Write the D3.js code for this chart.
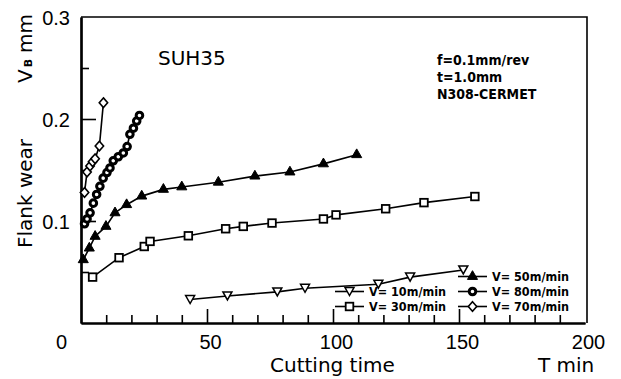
<!DOCTYPE html>
<html lang="en">
<head>
  <meta charset="UTF-8">
  <title>Flank wear vs cutting time</title>
</head>
<style>
  body { margin: 0; background: #fff; }
  .ticklabel { font-family: "Liberation Sans", Arial, sans-serif; font-size: 20px; fill: #000; }
  .axislabel { font-family: "DejaVu Sans", sans-serif; font-size: 20px; fill: #000; }
  .note { font-family: "DejaVu Sans Condensed", "DejaVu Sans", sans-serif; font-stretch: condensed; font-weight: bold; font-size: 14px; fill: #000; }
  .legend { font-family: "DejaVu Sans Condensed", "DejaVu Sans", sans-serif; font-stretch: condensed; font-weight: bold; font-size: 12.5px; fill: #000; }
</style>
<body>
<div id="chart"></div>
<script src="https://cdn.jsdelivr.net/npm/d3@7"></script>
<script>

  // ## Data (cutting time T in min, flank wear VB in mm)
  const t10 = [43.3, 58.1, 77.9, 88.9, 118, 130.6, 151.7];
  const vb10 = [0.023, 0.0265, 0.0305, 0.034, 0.038, 0.045, 0.052];

  const t30 = [4.6, 15.1, 25.1, 27.4, 42.6, 57.4, 64.4, 75.8, 96.2, 101.2, 120.9, 136.1, 156.3];
  const vb30 = [0.045, 0.064, 0.075, 0.080, 0.0855, 0.0924, 0.0947, 0.098, 0.102, 0.106, 0.112, 0.118, 0.124];

  const t50 = [0.9, 3.3, 5.6, 9.9, 13.5, 18.1, 24.1, 32.7, 40.0, 54.5, 69.0, 82.9, 96.2, 109.4];
  const vb50 = [0.062, 0.0734, 0.0849, 0.0947, 0.108, 0.116, 0.1244, 0.131, 0.1334, 0.138, 0.144, 0.148, 0.156, 0.165];

  const t80 = [1.4, 2.4, 3.6, 4.9, 6.2, 7.5, 8.8, 10.3, 11.5, 12.8, 14.8, 16.8, 18.3, 19.4, 20.8, 22.1, 23.2];
  const vb80 = [0.0973, 0.102, 0.108, 0.1175, 0.126, 0.134, 0.142, 0.1475, 0.152, 0.159, 0.163, 0.1667, 0.173, 0.185, 0.191, 0.198, 0.2035];

  const t70 = [1.4, 2.4, 3.6, 4.6, 5.6, 7.3, 8.9];
  const vb70 = [0.128, 0.148, 0.154, 0.158, 0.161, 0.1735, 0.216];

  const xMajorTicks = [0, 50, 100, 150, 200];
  const xMinorTicks = [10, 20, 30, 40, 60, 70, 80, 90, 110, 120, 130, 140, 160, 170, 180, 190];
  const yMajorTicks = [0.1, 0.2, 0.3];
  const yMinorTicks = [0.05, 0.15, 0.25];

  const series = [
    {name: "V= 10m/min", t: t10, vb: vb10, marker: "down"},
    {name: "V= 30m/min", t: t30, vb: vb30, marker: "square"},
    {name: "V= 50m/min", t: t50, vb: vb50, marker: "up"},
    {name: "V= 80m/min", t: t80, vb: vb80, marker: "circle"},
    {name: "V= 70m/min", t: t70, vb: vb70, marker: "diamond"}
  ];

  // ## Dimensions
  const dimensions = {
    width: 621,
    height: 379,
    margin: {top: 17, right: 36, bottom: 56, left: 81}
  };
  dimensions.boundedWidth = 585 - dimensions.margin.left;
  dimensions.boundedHeight = dimensions.height - dimensions.margin.top - dimensions.margin.bottom;

  const svg = d3.select("#chart")
    .append("svg")
      .attr("width", dimensions.width)
      .attr("height", dimensions.height);

  const bounds = svg.append("g")
      .attr("transform", `translate(${dimensions.margin.left},${dimensions.margin.top})`);

  // ## Scales
  const xScale = d3.scaleLinear()
      .domain([0, 200])
      .range([0, dimensions.boundedWidth]);

  const yScale = d3.scaleLinear()
      .domain([0, 0.3])
      .range([dimensions.boundedHeight, 0]);

  // ## Frame (top + right)
  bounds.append("path")
      .attr("d", `M0,0 H${xScale(200) + 2} V${dimensions.boundedHeight}`)
      .attr("fill", "none")
      .attr("stroke", "#000")
      .attr("stroke-width", 1.6);

  // ## Axes
  const styleAxis = g => {
    g.select(".domain").attr("stroke-width", 2.2);
    g.selectAll(".tick line").attr("stroke-width", 1.6);
  };

  bounds.append("g")
      .attr("transform", `translate(0,${dimensions.boundedHeight})`)
      .call(d3.axisBottom(xScale).tickValues(xMinorTicks).tickSizeInner(-8).tickSizeOuter(0).tickFormat(""))
      .call(styleAxis);

  const xAxis = bounds.append("g")
      .attr("transform", `translate(0,${dimensions.boundedHeight})`)
      .call(d3.axisBottom(xScale).tickValues(xMajorTicks).tickSizeInner(-14).tickSizeOuter(0).tickPadding(12))
      .call(styleAxis)
      .call(g => g.selectAll(".tick text")
          .attr("class", "ticklabel")
          .attr("font-family", null).attr("font-size", null)
          .attr("dx", d => d === 0 ? -20 : 3));
  xAxis.selectAll(".tick").filter(d => d === 0 || d === 200).select("line").remove();

  bounds.append("g")
      .call(d3.axisLeft(yScale).tickValues(yMinorTicks).tickSizeInner(-8).tickSizeOuter(0).tickFormat(""))
      .call(styleAxis);

  const yAxis = bounds.append("g")
      .call(d3.axisLeft(yScale).tickValues(yMajorTicks).tickSizeInner(-15).tickSizeOuter(0).tickPadding(11)
          .tickFormat(d3.format(".1f")))
      .call(styleAxis)
      .call(g => g.selectAll(".tick text")
          .attr("class", "ticklabel")
          .attr("font-family", null).attr("font-size", null)
          .attr("dy", "0.36em"));
  yAxis.selectAll(".tick").filter(d => d === 0.3).select("line").remove();

  // Axis labels
  svg.append("text")
      .attr("class", "axislabel")
      .attr("x", 270).attr("y", 372)
      .text("Cutting time");

  svg.append("text")
      .attr("class", "axislabel")
      .attr("x", 538).attr("y", 372)
      .text("T  min");

  svg.append("text")
      .attr("class", "axislabel")
      .attr("transform", "translate(32,248) rotate(-90)")
      .text("Flank wear");

  const vbLabel = svg.append("text")
      .attr("class", "axislabel")
      .attr("transform", "translate(32,83) rotate(-90)");
  vbLabel.append("tspan").text("V");
  vbLabel.append("tspan").attr("font-size", "11px").attr("font-weight", "bold").attr("dx", 2).attr("dy", 0).text("B");
  vbLabel.append("tspan").attr("dx", 6).text("mm");

  // Annotations
  svg.append("text")
      .attr("class", "axislabel")
      .attr("x", 158).attr("y", 65)
      .text("SUH35");

  ["f=0.1mm/rev", "t=1.0mm", "N308-CERMET"].forEach((line, i) => {
    svg.append("text")
        .attr("class", "note")
        .attr("x", 437)
        .attr("y", 65 + i * 17)
        .text(line);
  });

  // ## Markers
  function drawMarker(sel, type) {
    if (type === "up") {
      sel.append("path").attr("d", d3.symbol(d3.symbolTriangle, 44)())
        .attr("fill", "#000").attr("stroke", "#000").attr("stroke-width", 1);
    } else if (type === "down") {
      sel.append("path").attr("d", "M-4.5,-4 L4.5,-4 L0,4 Z")
        .attr("fill", "#fff").attr("stroke", "#000").attr("stroke-width", 1.5);
    } else if (type === "square") {
      sel.append("rect").attr("x", -3.8).attr("y", -3.8).attr("width", 7.6).attr("height", 7.6)
        .attr("fill", "#fff").attr("stroke", "#000").attr("stroke-width", 1.8);
    } else if (type === "circle") {
      sel.append("circle").attr("r", 3.3)
        .attr("fill", "#fff").attr("stroke", "#000").attr("stroke-width", 3);
    } else if (type === "diamond") {
      sel.append("path").attr("d", "M0,-4.8 L4.2,0 L0,4.8 L-4.2,0 Z")
        .attr("fill", "#fff").attr("stroke", "#000").attr("stroke-width", 1.6);
    }
  }

  // ## Draw data
  const line = d3.line()
      .x(d => xScale(d[0]))
      .y(d => yScale(d[1]));

  series.forEach(s => {
    const pts = s.t.map((t, i) => [t, s.vb[i]]);
    bounds.append("path")
        .datum(pts)
        .attr("fill", "none")
        .attr("stroke", "#000")
        .attr("stroke-width", 1.6)
        .attr("d", line);
    bounds.selectAll(null)
        .data(pts)
        .enter()
        .append("g")
          .attr("transform", d => `translate(${xScale(d[0])},${yScale(d[1])})`)
          .each(function() { drawMarker(d3.select(this), s.marker); });
  });

  // ## Legend
  const legendItems = [
    {s: series[2], x: 458, y: 281},
    {s: series[0], x: 335, y: 296},
    {s: series[3], x: 458, y: 296},
    {s: series[1], x: 335, y: 311},
    {s: series[4], x: 458, y: 311}
  ];

  legendItems.forEach(item => {
    const g = svg.append("g").attr("transform", `translate(${item.x},${item.y})`);
    g.append("line")
        .attr("x1", 0).attr("x2", 29)
        .attr("y1", -4.5).attr("y2", -4.5)
        .attr("stroke", "#000").attr("stroke-width", 1.6);
    const m = g.append("g").attr("transform", "translate(14.5,-4.5)");
    drawMarker(m, item.s.marker);
    g.append("text")
        .attr("class", "legend")
        .attr("x", 34)
        .attr("y", 0)
        .text(item.s.name);
  });

</script>
</body>
</html>
